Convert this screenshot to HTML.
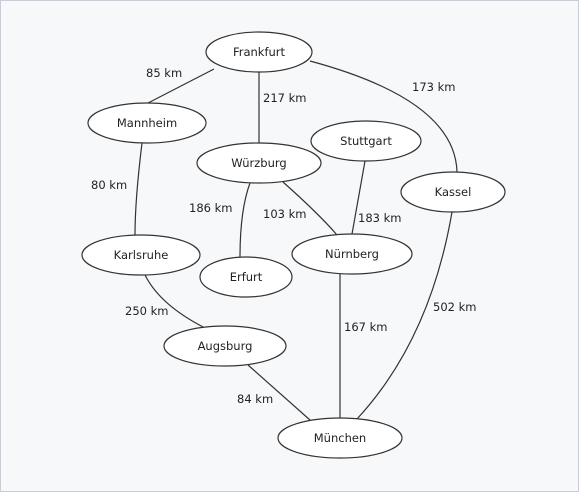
<!DOCTYPE html>
<html><head><style>
html,body{margin:0;padding:0}
body{width:579px;height:492px;overflow:hidden;background:#f7f8fa}
svg{display:block}
text{font-family:"DejaVu Sans","Liberation Sans",sans-serif;font-size:11.5px;fill:#222}
</style></head><body>
<svg width="579" height="492" viewBox="0 0 579 492">
<rect x="0.5" y="0.5" width="578" height="491" fill="#f7f8fa" stroke="#c8ccd4"/>
<g fill="none" stroke="#333" stroke-width="1.2">
<path d="M214,69 L148,103"/>
<path d="M259,72 L259,143"/>
<path d="M310,61 Q455,100 457,172"/>
<path d="M142,143 Q135,200 135,235"/>
<path d="M250,183 Q240,210 240,257"/>
<path d="M283,182 Q320,215 337,235"/>
<path d="M365,161 L352,234"/>
<path d="M145,275 Q160,305 205,328"/>
<path d="M340,274 L340,418"/>
<path d="M452,212 Q430,340 357,419"/>
<path d="M248,365 L310,420"/>
</g>
<g fill="#fff" stroke="#333" stroke-width="1.2">
<ellipse cx="259" cy="52" rx="53" ry="20"/>
<ellipse cx="147" cy="123" rx="59" ry="20"/>
<ellipse cx="259" cy="163" rx="62" ry="20"/>
<ellipse cx="366" cy="141" rx="55" ry="20"/>
<ellipse cx="453" cy="192" rx="52" ry="20"/>
<ellipse cx="141" cy="255" rx="59" ry="20"/>
<ellipse cx="246" cy="277" rx="46" ry="20"/>
<ellipse cx="352" cy="254" rx="60" ry="20"/>
<ellipse cx="225" cy="346" rx="61" ry="20"/>
<ellipse cx="340" cy="438" rx="62" ry="20"/>
</g>
<g text-anchor="middle">
<text x="259" y="56">Frankfurt</text>
<text x="147" y="127">Mannheim</text>
<text x="259" y="167">Würzburg</text>
<text x="366" y="145">Stuttgart</text>
<text x="453" y="196">Kassel</text>
<text x="141" y="259">Karlsruhe</text>
<text x="246" y="281">Erfurt</text>
<text x="352" y="258">Nürnberg</text>
<text x="225" y="350">Augsburg</text>
<text x="340" y="442">München</text>
</g>
<g>
<text x="146" y="77">85 km</text>
<text x="263" y="102">217 km</text>
<text x="412" y="91">173 km</text>
<text x="91" y="189">80 km</text>
<text x="189" y="212">186 km</text>
<text x="263" y="218">103 km</text>
<text x="358" y="222">183 km</text>
<text x="125" y="315">250 km</text>
<text x="433" y="311">502 km</text>
<text x="344" y="331">167 km</text>
<text x="237" y="403">84 km</text>
</g>
</svg>
</body></html>
